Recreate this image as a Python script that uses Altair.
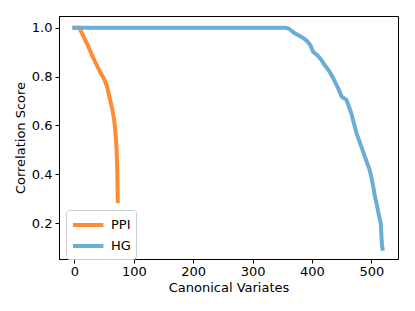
import altair as alt
import pandas as pd

# PPI series (canonical variate index, correlation score)
ppi_x = [0, 8, 10, 21, 32, 43, 50, 55, 60, 63, 66, 68, 70, 71, 72, 72.5, 73]
ppi_y = [1.0, 1.0, 0.99, 0.936, 0.875, 0.82, 0.79, 0.759, 0.705, 0.675, 0.637, 0.60, 0.542, 0.50, 0.433, 0.37, 0.29]

# HG series
hg_x = [0, 100, 200, 300, 355, 362, 371, 378, 386, 392, 397, 402, 410, 416, 422, 428, 436, 444, 450, 458,
        462, 467, 475, 484, 492, 497, 501, 504, 506, 509, 512, 514, 516, 517, 518, 519]
hg_y = [1.0, 1.0, 1.0, 1.0, 1.0, 0.995, 0.977, 0.968, 0.957, 0.945, 0.93, 0.902, 0.885, 0.868, 0.845, 0.827,
        0.793, 0.753, 0.718, 0.705, 0.68, 0.644, 0.569, 0.508, 0.453, 0.42, 0.378, 0.34, 0.31, 0.28, 0.242,
        0.22, 0.2, 0.15, 0.11, 0.095]

series = ["PPI", "HG"]
colors = ["#ff8c35", "#6aaed6"]

ppi = pd.DataFrame({"x": ppi_x, "y": ppi_y, "series": "PPI", "order": range(len(ppi_x))})
hg = pd.DataFrame({"x": hg_x, "y": hg_y, "series": "HG", "order": range(len(hg_x))})

font = "DejaVu Sans"

xenc = alt.X("x:Q", scale=alt.Scale(domain=[-26, 545], nice=False, zero=False),
             axis=alt.Axis(title="Canonical Variates", values=[0, 100, 200, 300, 400, 500],
                           format="d", grid=False, tickSize=4, labelPadding=2, titlePadding=3,
                           domainColor="black", tickColor="black", labelColor="black",
                           titleColor="black", labelFontSize=13, titleFontSize=13,
                           titleFontWeight="normal", labelFont=font, titleFont=font,
                           labelFlush=False))
yenc = alt.Y("y:Q", scale=alt.Scale(domain=[0.053, 1.048], nice=False, zero=False),
             axis=alt.Axis(title="Correlation Score", values=[0.2, 0.4, 0.6, 0.8, 1.0],
                           format=".1f", grid=False, tickSize=4, labelPadding=3, titlePadding=4,
                           domainColor="black", tickColor="black", labelColor="black",
                           titleColor="black", labelFontSize=13, titleFontSize=13,
                           titleFontWeight="normal", labelFont=font, titleFont=font,
                           labelFlush=False))
color = alt.Color("series:N", scale=alt.Scale(domain=series, range=colors),
                  legend=alt.Legend(title=None, orient="none", legendX=7, legendY=194,
                                    symbolType="M-1,0H2.8", symbolSize=256, symbolStrokeWidth=4,
                                    labelFontSize=13, labelFont=font, labelColor="black",
                                    fillColor="white", strokeColor="#cccccc", cornerRadius=3,
                                    padding=5, rowPadding=3, labelOffset=20))

line_kw = dict(strokeWidth=4, strokeCap="square", strokeJoin="round")

l_ppi = alt.Chart(ppi).mark_line(**line_kw).encode(x=xenc, y=yenc, color=color, order="order:Q")
l_hg = alt.Chart(hg).mark_line(**line_kw).encode(x=xenc, y=yenc, color=color, order="order:Q")

chart = alt.layer(l_ppi, l_hg).properties(
    width=339, height=243,
    background="white",
    autosize=alt.AutoSizeParams(type="none"),
    padding={"left": 51, "top": 8, "right": 9, "bottom": 40},
).configure_view(stroke="black", strokeWidth=1)

chart.save("out.html", embed_options={"renderer": "svg", "actions": False})
